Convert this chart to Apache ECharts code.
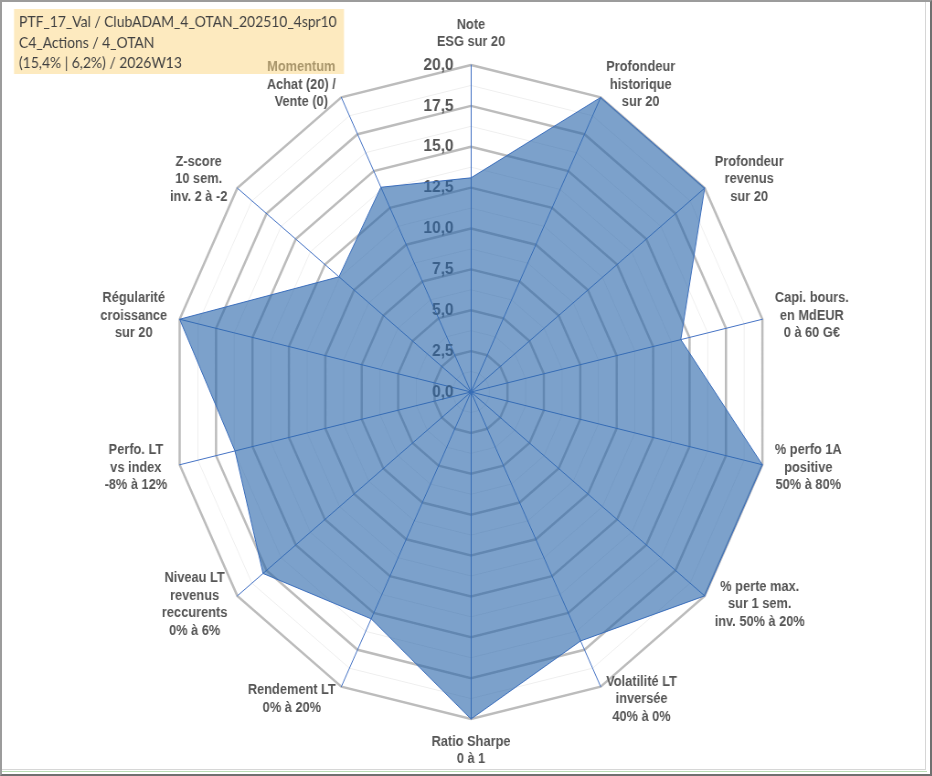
<!DOCTYPE html>
<html>
<head>
<meta charset="utf-8">
<script src="https://cdn.jsdelivr.net/npm/echarts@6/dist/echarts.min.js"></script>
<style>
  html, body { margin: 0; padding: 0; background: #fff; overflow: hidden; }
  #wrap { position: relative; width: 932px; height: 776px; overflow: hidden; }
  /* le graphe Excel d'origine est un peu comprimé en largeur */
  #chart { position: absolute; left: 0; top: 0; width: 1020px; height: 776px;
           transform: scaleX(0.914); transform-origin: 0 0; }
  .frame { position: absolute; box-sizing: border-box; }
</style>
</head>
<body>
<div id="wrap">
  <div id="chart"></div>
  <div class="frame" style="left:0;top:0;width:932px;height:776px;border:2px solid #9c9c9c;border-right-color:#707070;border-bottom-color:#707070;"></div>
  <div class="frame" style="left:2px;top:2px;width:924px;height:768px;border-right:1px solid #d6d6d6;border-bottom:1px solid #d6d6d6;"></div>
  <div class="frame" style="left:2px;top:771px;width:925px;height:1px;background:#b9dcb4;"></div>
</div>
<script>
var SX = 0.914;

// axes du radar, dans le sens horaire à partir du haut
var categories = [
    'Note\nESG sur 20',
    'Profondeur\nhistorique\nsur 20',
    'Profondeur\nrevenus\nsur 20',
    'Capi. bours.\nen MdEUR\n0 à 60 G€',
    '% perfo 1A\npositive\n50% à 80%',
    '% perte max.\nsur 1 sem.\ninv. 50% à 20%',
    'Volatilité LT\ninversée\n40% à 0%',
    'Ratio Sharpe\n0 à 1',
    'Rendement LT\n0% à 20%',
    'Niveau LT\nrevenus\nreccurents\n0% à 6%',
    'Perfo. LT\nvs index\n-8% à 12%',
    'Régularité\ncroissance\nsur 20',
    'Z-score\n10 sem.\ninv. 2 à -2',
    'Momentum\nAchat (20) /\nVente (0)'
];
var values = [13.1, 20, 20, 14.4, 20, 20, 16.9, 20, 15.4, 17.8, 16.2, 20, 11.3, 13.9];
var axisMax = 20;
var titleLines = [
    'PTF_17_Val / ClubADAM_4_OTAN_202510_4spr10',
    'C4_Actions / 4_OTAN',
    '(15,4% | 6,2%) / 2026W13'
];

// echarts tourne dans le sens anti-horaire : on inverse l'ordre (sauf le 1er)
var order = [0];
for (var i = categories.length - 1; i > 0; i--) order.push(i);

var indicatorsMinor = order.map(function (k) {
    return { name: '', min: 0, max: axisMax };
});
var indicators = order.map(function (k, n) {
    var ind = { name: categories[k], min: 0, max: axisMax };
    if (n === 0) ind.axisLabel = { show: true };
    return ind;
});
var seriesData = order.map(function (k) { return values[k]; });

var center = [471 / SX, 392];
var radius = 327;

var chart = echarts.init(document.getElementById('chart'));
var option = {
    animation: false,
    backgroundColor: 'transparent',
    radar: [{
        // lignes secondaires très claires (pas de 1,25)
        indicator: indicatorsMinor,
        center: center,
        radius: radius,
        shape: 'polygon',
        splitNumber: 16,
        axisName: { show: false },
        axisLine: { show: false },
        axisTick: { show: false },
        axisLabel: { show: false },
        splitArea: { show: false },
        splitLine: { lineStyle: { color: '#efefef', width: 1 } }
    }, {
        indicator: indicators,
        center: center,
        radius: radius,
        shape: 'polygon',
        splitNumber: 8,
        nameGap: 14,
        axisName: {
            color: '#555555',
            fontFamily: 'Liberation Sans',
            fontWeight: 'bold',
            fontSize: 14,
            lineHeight: 17.5,
            formatter: function (name) {
                return name.split('\n').map(function (s) { return '{c|' + s + '}'; }).join('\n');
            },
            rich: {
                c: {
                    align: 'center',
                    color: '#555555',
                    fontFamily: 'Liberation Sans',
                    fontWeight: 'bold',
                    fontSize: 14,
                    lineHeight: 17.5
                }
            }
        },
        axisLine: { show: true, lineStyle: { color: '#4472C4', width: 1 } },
        axisTick: { show: false },
        axisLabel: {
            show: false,
            margin: 19,
            color: '#555555',
            fontFamily: 'Liberation Sans',
            fontWeight: 'bold',
            fontSize: 17,
            formatter: function (v) { return v.toFixed(1).replace('.', ','); }
        },
        splitArea: { show: false },
        splitLine: { lineStyle: { color: '#bcbcbc', width: 2.5 } }
    }],
    series: [{
        type: 'radar',
        radarIndex: 1,
        symbol: 'none',
        lineStyle: { color: '#4472C4', width: 1 },
        areaStyle: { color: 'rgba(44,103,171,0.62)', opacity: 1 },
        data: [{ value: seriesData, name: 'Note' }]
    }],
    graphic: [{
        type: 'rect',
        z: 100,
        shape: { x: 14 / SX, y: 9, width: 330 / SX, height: 65 },
        style: { fill: 'rgba(251,213,127,0.5)' }
    }].concat(titleLines.map(function (t, i) {
        return {
            type: 'text',
            z: 101,
            x: 19 / SX,
            y: 22 + i * 20.8,
            style: {
                text: t,
                fill: '#404040',
                font: '15.2px Lato',
                verticalAlign: 'middle'
            }
        };
    }))
};
chart.setOption(option);
</script>
</body>
</html>
